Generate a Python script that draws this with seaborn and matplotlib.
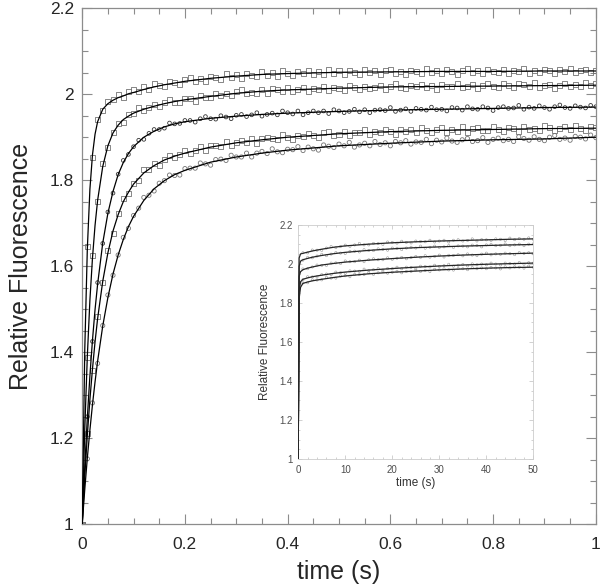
import numpy as np
import pandas as pd
import matplotlib
matplotlib.use("Agg")
import matplotlib.pyplot as plt
from matplotlib.ticker import MultipleLocator, FuncFormatter
import seaborn as sns

# ---- main panel: stopped-flow traces, 0-1 s ----
t_pts = np.linspace(0, 1, 101)   # sampling times of the plotted points (s)

trace1_pts = [1.000, 1.645, 1.853, 1.941, 1.961, 1.984, 1.988, 1.999, 1.993, 2.006,
              2.012, 2.006, 2.017, 2.010, 2.026, 2.021, 2.017, 2.030, 2.028, 2.022,
              2.034, 2.039, 2.030, 2.037, 2.029, 2.042, 2.039, 2.035, 2.048, 2.039,
              2.045, 2.037, 2.048, 2.044, 2.041, 2.053, 2.044, 2.050, 2.042, 2.054,
              2.049, 2.043, 2.053, 2.048, 2.055, 2.046, 2.052, 2.047, 2.058, 2.049,
              2.054, 2.046, 2.055, 2.051, 2.047, 2.058, 2.051, 2.055, 2.046, 2.054,
              2.057, 2.049, 2.053, 2.047, 2.056, 2.052, 2.048, 2.059, 2.050, 2.056,
              2.049, 2.058, 2.053, 2.047, 2.055, 2.059, 2.050, 2.054, 2.048, 2.057,
              2.053, 2.051, 2.058, 2.049, 2.056, 2.052, 2.059, 2.048, 2.056, 2.051,
              2.058, 2.054, 2.048, 2.057, 2.052, 2.059, 2.050, 2.055, 2.058, 2.051,
              2.056]
trace2_pts = [1.000, 1.388, 1.624, 1.751, 1.838, 1.875, 1.912, 1.932, 1.935, 1.952,
              1.956, 1.968, 1.962, 1.968, 1.977, 1.971, 1.980, 1.987, 1.981, 1.980,
              1.990, 1.990, 1.984, 1.996, 1.993, 1.992, 2.002, 1.997, 2.001, 1.996,
              2.006, 2.010, 2.002, 2.005, 2.002, 2.010, 2.002, 2.013, 2.010, 2.007,
              2.016, 2.007, 2.011, 2.015, 2.007, 2.014, 2.011, 2.018, 2.009, 2.016,
              2.014, 2.008, 2.020, 2.016, 2.012, 2.019, 2.014, 2.016, 2.021, 2.011,
              2.019, 2.024, 2.016, 2.013, 2.020, 2.018, 2.023, 2.015, 2.020, 2.012,
              2.022, 2.019, 2.017, 2.025, 2.015, 2.019, 2.022, 2.014, 2.021, 2.024,
              2.018, 2.016, 2.026, 2.020, 2.015, 2.024, 2.022, 2.018, 2.027, 2.016,
              2.021, 2.023, 2.014, 2.021, 2.026, 2.019, 2.023, 2.017, 2.027, 2.020,
              2.024]
trace3_pts = [1.000, 1.250, 1.425, 1.562, 1.653, 1.726, 1.770, 1.814, 1.846, 1.860,
              1.878, 1.893, 1.895, 1.909, 1.918, 1.918, 1.921, 1.933, 1.931, 1.932,
              1.939, 1.939, 1.935, 1.943, 1.948, 1.943, 1.942, 1.950, 1.947, 1.943,
              1.951, 1.953, 1.948, 1.952, 1.957, 1.949, 1.953, 1.956, 1.952, 1.961,
              1.957, 1.954, 1.961, 1.952, 1.957, 1.961, 1.957, 1.961, 1.955, 1.964,
              1.961, 1.957, 1.960, 1.965, 1.959, 1.964, 1.957, 1.963, 1.964, 1.962,
              1.969, 1.960, 1.963, 1.966, 1.960, 1.967, 1.965, 1.963, 1.970, 1.964,
              1.965, 1.961, 1.969, 1.968, 1.963, 1.971, 1.966, 1.965, 1.971, 1.968,
              1.962, 1.969, 1.971, 1.967, 1.968, 1.974, 1.965, 1.970, 1.967, 1.973,
              1.969, 1.965, 1.971, 1.975, 1.969, 1.967, 1.973, 1.970, 1.968, 1.974,
              1.971]
trace4_pts = [1.000, 1.210, 1.357, 1.484, 1.563, 1.636, 1.676, 1.722, 1.757, 1.769,
              1.792, 1.800, 1.825, 1.825, 1.838, 1.834, 1.849, 1.858, 1.853, 1.860,
              1.868, 1.862, 1.868, 1.879, 1.869, 1.880, 1.880, 1.879, 1.891, 1.880,
              1.887, 1.892, 1.887, 1.897, 1.886, 1.896, 1.900, 1.896, 1.894, 1.906,
              1.900, 1.895, 1.905, 1.901, 1.909, 1.905, 1.900, 1.910, 1.914, 1.904,
              1.907, 1.913, 1.903, 1.911, 1.910, 1.917, 1.907, 1.914, 1.910, 1.918,
              1.914, 1.906, 1.917, 1.913, 1.919, 1.911, 1.923, 1.915, 1.910, 1.917,
              1.922, 1.912, 1.917, 1.914, 1.924, 1.911, 1.920, 1.922, 1.916, 1.915,
              1.926, 1.918, 1.913, 1.922, 1.921, 1.913, 1.925, 1.917, 1.920, 1.915,
              1.927, 1.923, 1.915, 1.920, 1.925, 1.917, 1.927, 1.920, 1.915, 1.925,
              1.923]
trace5_pts = [1.000, 1.152, 1.282, 1.374, 1.462, 1.533, 1.579, 1.626, 1.667, 1.688,
              1.718, 1.735, 1.760, 1.765, 1.775, 1.793, 1.799, 1.812, 1.811, 1.812,
              1.827, 1.828, 1.828, 1.840, 1.838, 1.835, 1.848, 1.849, 1.846, 1.858,
              1.854, 1.854, 1.863, 1.854, 1.863, 1.867, 1.862, 1.873, 1.866, 1.864,
              1.872, 1.871, 1.878, 1.869, 1.877, 1.873, 1.870, 1.882, 1.879, 1.876,
              1.884, 1.880, 1.888, 1.877, 1.882, 1.886, 1.880, 1.890, 1.883, 1.887,
              1.880, 1.890, 1.887, 1.892, 1.884, 1.889, 1.888, 1.895, 1.885, 1.893,
              1.889, 1.898, 1.891, 1.888, 1.894, 1.897, 1.890, 1.892, 1.899, 1.888,
              1.895, 1.898, 1.892, 1.895, 1.890, 1.901, 1.897, 1.893, 1.901, 1.895,
              1.892, 1.900, 1.904, 1.895, 1.898, 1.893, 1.902, 1.900, 1.896, 1.905,
              1.899]

# fitted curves
t_fit = [0, 0.005, 0.01, 0.015, 0.02, 0.025, 0.03, 0.04, 0.05, 0.06, 0.07, 0.08, 0.09, 0.1,
         0.12, 0.14, 0.16, 0.18, 0.2, 0.25, 0.3, 0.35, 0.4, 0.5, 0.6, 0.7, 0.8, 0.9, 1.0]
trace1_fit = [1.000, 1.406, 1.641, 1.779, 1.859, 1.907, 1.936, 1.965, 1.978, 1.986, 1.992, 1.996, 2.001, 2.004,
              2.011, 2.017, 2.022, 2.026, 2.030, 2.037, 2.042, 2.046, 2.048, 2.051, 2.052, 2.053, 2.053, 2.054, 2.054]
trace2_fit = [1.000, 1.222, 1.391, 1.521, 1.619, 1.695, 1.753, 1.832, 1.880, 1.910, 1.928, 1.941, 1.949, 1.956,
              1.965, 1.972, 1.978, 1.983, 1.987, 1.995, 2.002, 2.007, 2.010, 2.014, 2.017, 2.018, 2.019, 2.020, 2.021]
trace3_fit = [1.000, 1.134, 1.248, 1.345, 1.428, 1.499, 1.558, 1.654, 1.723, 1.774, 1.813, 1.841, 1.862, 1.878,
              1.900, 1.914, 1.924, 1.931, 1.936, 1.944, 1.949, 1.953, 1.956, 1.960, 1.963, 1.965, 1.967, 1.969, 1.970]
trace4_fit = [1.000, 1.111, 1.207, 1.290, 1.361, 1.424, 1.478, 1.565, 1.631, 1.682, 1.720, 1.750, 1.772, 1.791,
              1.817, 1.834, 1.847, 1.856, 1.863, 1.877, 1.887, 1.894, 1.900, 1.908, 1.913, 1.916, 1.918, 1.920, 1.921]
trace5_fit = [1.000, 1.081, 1.154, 1.219, 1.278, 1.331, 1.379, 1.461, 1.527, 1.582, 1.626, 1.662, 1.692, 1.716,
              1.753, 1.780, 1.799, 1.813, 1.823, 1.842, 1.854, 1.863, 1.870, 1.880, 1.886, 1.891, 1.894, 1.896, 1.900]

# ---- inset: same traces out to 50 s ----
t_in_pts = np.arange(1, 51)
trace1_in = [2.057, 2.056, 2.071, 2.070, 2.069, 2.081, 2.089, 2.083, 2.089, 2.096,
             2.089, 2.097, 2.105, 2.097, 2.097, 2.105, 2.104, 2.099, 2.112, 2.110,
             2.106, 2.116, 2.110, 2.107, 2.117, 2.115, 2.113, 2.121, 2.112, 2.117,
             2.121, 2.112, 2.121, 2.124, 2.117, 2.120, 2.128, 2.117, 2.124, 2.123,
             2.120, 2.128, 2.126, 2.119, 2.132, 2.124, 2.130, 2.126, 2.133, 2.125]
trace2_in = [2.019, 2.033, 2.031, 2.040, 2.049, 2.042, 2.050, 2.058, 2.055, 2.053,
             2.064, 2.065, 2.061, 2.073, 2.068, 2.068, 2.077, 2.074, 2.070, 2.081,
             2.080, 2.073, 2.081, 2.085, 2.081, 2.091, 2.080, 2.085, 2.091, 2.084,
             2.087, 2.094, 2.084, 2.092, 2.091, 2.087, 2.096, 2.094, 2.087, 2.097,
             2.100, 2.093, 2.095, 2.102, 2.093, 2.097, 2.101, 2.093, 2.101, 2.103]
trace3_in = [1.974, 1.975, 1.984, 1.994, 1.992, 1.992, 2.004, 2.005, 2.002, 2.015,
             2.011, 2.011, 2.019, 2.011, 2.021, 2.026, 2.021, 2.021, 2.031, 2.023,
             2.029, 2.033, 2.026, 2.032, 2.038, 2.033, 2.042, 2.034, 2.038, 2.045,
             2.035, 2.044, 2.043, 2.047, 2.041, 2.051, 2.045, 2.042, 2.050, 2.055,
             2.046, 2.051, 2.049, 2.055, 2.052, 2.047, 2.058, 2.053, 2.057, 2.051]
trace4_in = [1.918, 1.934, 1.933, 1.933, 1.945, 1.948, 1.945, 1.958, 1.955, 1.952,
             1.964, 1.963, 1.962, 1.973, 1.965, 1.970, 1.976, 1.968, 1.976, 1.975,
             1.983, 1.975, 1.983, 1.982, 1.977, 1.988, 1.987, 1.984, 1.993, 1.987,
             1.991, 1.998, 1.988, 1.993, 1.997, 1.989, 2.000, 1.995, 1.999, 1.995,
             2.004, 1.999, 1.994, 2.004, 2.002, 1.999, 2.007, 1.998, 2.006, 2.004]
trace5_in = [1.902, 1.903, 1.918, 1.917, 1.918, 1.931, 1.927, 1.927, 1.938, 1.939,
             1.934, 1.946, 1.945, 1.945, 1.954, 1.946, 1.954, 1.960, 1.952, 1.957,
             1.962, 1.954, 1.961, 1.961, 1.969, 1.961, 1.967, 1.960, 1.972, 1.969,
             1.975, 1.969, 1.968, 1.976, 1.975, 1.970, 1.981, 1.975, 1.979, 1.975,
             1.982, 1.979, 1.974, 1.985, 1.979, 1.984, 1.983, 1.978, 1.989, 1.982]

t_in_fit = [0, 0.2, 0.5, 1, 2, 3, 5, 7.5, 10, 15, 20, 25, 30, 35, 40, 45, 50]
trace1_in_fit = [1.0, 2.030, 2.051, 2.054, 2.060, 2.066, 2.075, 2.085, 2.092, 2.101, 2.108, 2.113, 2.117, 2.120, 2.123, 2.126, 2.128]
trace2_in_fit = [1.0, 1.987, 2.014, 2.021, 2.028, 2.034, 2.043, 2.052, 2.059, 2.069, 2.077, 2.083, 2.087, 2.091, 2.094, 2.097, 2.099]
trace3_in_fit = [1.0, 1.936, 1.960, 1.970, 1.978, 1.984, 1.994, 2.002, 2.009, 2.019, 2.027, 2.034, 2.040, 2.045, 2.049, 2.052, 2.055]
trace4_in_fit = [1.0, 1.863, 1.908, 1.921, 1.928, 1.934, 1.942, 1.951, 1.958, 1.968, 1.976, 1.983, 1.989, 1.994, 1.998, 2.001, 2.004]
trace5_in_fit = [1.0, 1.823, 1.880, 1.900, 1.907, 1.913, 1.921, 1.930, 1.938, 1.949, 1.957, 1.963, 1.969, 1.974, 1.978, 1.981, 1.983]

pts_main = [trace1_pts, trace2_pts, trace3_pts, trace4_pts, trace5_pts]
fit_main = [trace1_fit, trace2_fit, trace3_fit, trace4_fit, trace5_fit]
pts_in = [trace1_in, trace2_in, trace3_in, trace4_in, trace5_in]
fit_in = [trace1_in_fit, trace2_in_fit, trace3_in_fit, trace4_in_fit, trace5_in_fit]

# marker look per trace: squares / circles, circles of trace 3 darker
mk = ['s', 's', 'o', 's', 'o']
mk_size = [13, 13, 7, 13, 9]
mk_col = ['0.45', '0.45', '0.2', '0.45', '0.45']

sns.set_style("ticks")
plt.rcParams['font.family'] = ['Liberation Sans', 'DejaVu Sans']

fig = plt.figure(figsize=(6, 5.87), dpi=100)
ax = fig.add_axes([0.137, 0.107, 0.856, 0.879])

for i in range(5):
    sns.scatterplot(ax=ax, x=t_pts, y=pts_main[i], marker=mk[i], s=mk_size[i],
                    facecolor='none', edgecolor=mk_col[i], linewidth=0.6, zorder=2)
    sns.lineplot(ax=ax, x=t_fit, y=fit_main[i], color='black', lw=0.9,
                 estimator=None, sort=False, zorder=3)

ax.set_xlim(0, 1)
ax.set_ylim(1, 2.2)
ax.xaxis.set_major_locator(MultipleLocator(0.2))
ax.xaxis.set_minor_locator(MultipleLocator(0.05))
ax.yaxis.set_major_locator(MultipleLocator(0.2))
ax.yaxis.set_minor_locator(MultipleLocator(0.05))
fmt = FuncFormatter(lambda v, p: '%g' % round(v, 2))
ax.xaxis.set_major_formatter(fmt)
ax.yaxis.set_major_formatter(fmt)
ax.tick_params(which='both', direction='in', top=True, right=True, color='0.55', width=0.8)
ax.tick_params(which='major', length=7, labelsize=12.5)
ax.tick_params(axis='x', which='major', pad=9)
ax.tick_params(axis='y', which='major', pad=6)
ax.tick_params(which='minor', length=4)
for sp in ax.spines.values():
    sp.set_color('0.55')
    sp.set_linewidth(0.9)
ax.set_xlabel("time (s)", fontsize=18, labelpad=6)
ax.set_ylabel("Relative Fluorescence", fontsize=18, labelpad=12)

# inset
axi = fig.add_axes([0.497, 0.218, 0.392, 0.399])
for i in range(5):
    sns.scatterplot(ax=axi, x=t_in_pts, y=pts_in[i], marker='o', s=2.5,
                    facecolor='none', edgecolor='0.6', linewidth=0.4, zorder=2)
    sns.lineplot(ax=axi, x=t_in_fit, y=fit_in[i], color='0.15', lw=0.9,
                 estimator=None, sort=False, zorder=3)
axi.set_xlim(0, 50)
axi.set_ylim(1, 2.2)
axi.xaxis.set_major_locator(MultipleLocator(10))
axi.xaxis.set_minor_locator(MultipleLocator(2))
axi.yaxis.set_major_locator(MultipleLocator(0.2))
axi.yaxis.set_minor_locator(MultipleLocator(0.05))
axi.xaxis.set_major_formatter(fmt)
axi.yaxis.set_major_formatter(fmt)
axi.tick_params(which='both', direction='in', top=True, right=True, color='0.75', width=0.5,
                labelsize=7, labelcolor='0.3', pad=4)
axi.tick_params(which='major', length=3)
axi.tick_params(which='minor', length=1.5)
for sp in axi.spines.values():
    sp.set_color('0.8')
    sp.set_linewidth(0.6)
axi.set_xlabel("time (s)", fontsize=8.5, color='0.2', labelpad=2)
axi.set_ylabel("Relative Fluorescence", fontsize=8.5, color='0.2', labelpad=6)

fig.savefig("out.png", dpi=100)
